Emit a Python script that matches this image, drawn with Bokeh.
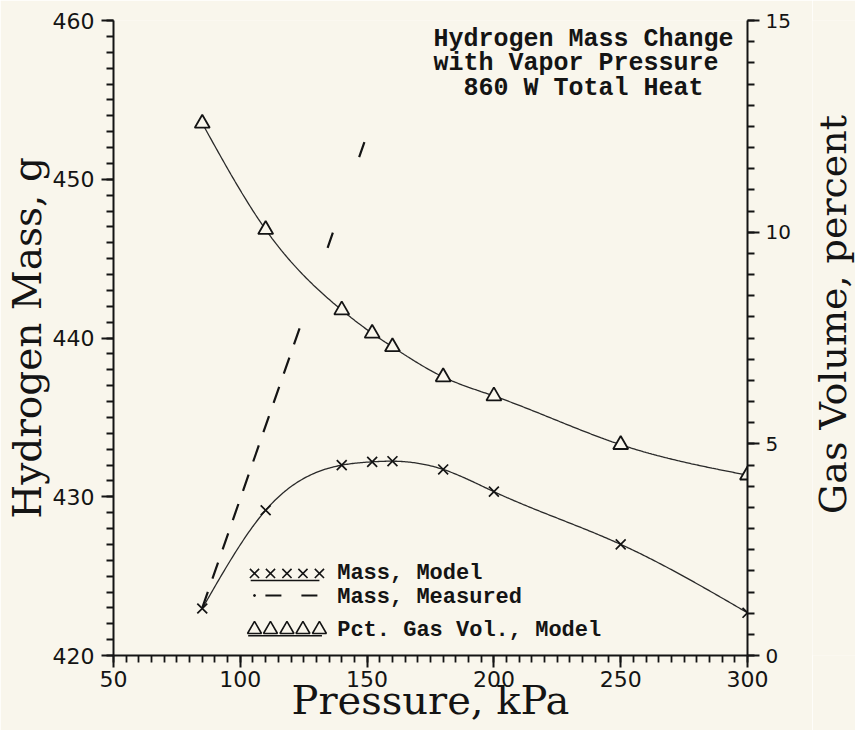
import math
import numpy as np
from bokeh.plotting import figure
from bokeh.layouts import row
from bokeh.models import Range1d, LinearAxis, FixedTicker
from bokeh.core.properties import value
from bokeh.embed import file_html
from bokeh.resources import INLINE

# ---------------- data ----------------
pressure = [85, 110, 140, 152, 160, 180, 200, 250, 300]              # kPa
mass_model = [422.96, 429.15, 431.99, 432.20, 432.24, 431.72, 430.32, 427.0, 422.69]  # g
gas_vol_model = [12.57, 10.06, 8.16, 7.61, 7.29, 6.58, 6.13, 4.98, 4.26]              # percent
measured_x = [85.0, 149.5]        # kPa
measured_y = [423.0, 452.6]       # g

x_ticks = [50, 100, 150, 200, 250, 300]
left_ticks = [420, 430, 440, 450, 460]
right_ticks = [0, 5, 10, 15]

title_lines = ["Hydrogen Mass Change", "with Vapor Pressure", "860 W Total Heat"]
legend_labels = ["Mass, Model", "Mass, Measured", "Pct. Gas Vol., Model"]
x_title = "Pressure, kPa"
left_title = "Hydrogen Mass, g"
right_title = "Gas Volume, percent"

# ---------------- style ----------------
BG = "#f9f6ec"
INK = "#141414"
MONO = "Liberation Mono"
SERIF = "DejaVu Serif"
SANS = "DejaVu Sans"
MAIN_W = 812
SIDE_W = 855 - MAIN_W
H = 730


def natural_spline(x, y, xs):
    x = np.asarray(x, float)
    y = np.asarray(y, float)
    n = len(x)
    h = np.diff(x)
    A = np.zeros((n, n))
    b = np.zeros(n)
    A[0, 0] = 1
    A[-1, -1] = 1
    for i in range(1, n - 1):
        A[i, i - 1] = h[i - 1]
        A[i, i] = 2 * (h[i - 1] + h[i])
        A[i, i + 1] = h[i]
        b[i] = 3 * ((y[i + 1] - y[i]) / h[i] - (y[i] - y[i - 1]) / h[i - 1])
    c = np.linalg.solve(A, b)
    bc = (y[1:] - y[:-1]) / h - h * (2 * c[:-1] + c[1:]) / 3
    d = (c[1:] - c[:-1]) / (3 * h)
    idx = np.clip(np.searchsorted(x, xs) - 1, 0, n - 2)
    dx = xs - x[idx]
    return y[idx] + bc[idx] * dx + c[idx] * dx ** 2 + d[idx] * dx ** 3


p = figure(width=MAIN_W, height=H, output_backend="svg", toolbar_location=None,
           x_range=Range1d(50, 300), y_range=Range1d(420, 460),
           min_border_left=113, min_border_right=MAIN_W - 747, min_border_top=20,
           min_border_bottom=75)
p.extra_y_ranges = {"pct": Range1d(0, 15)}
p.background_fill_color = BG
p.border_fill_color = BG
p.outline_line_color = None
p.xgrid.visible = False
p.ygrid.visible = False


def style_axis(ax, label_size, standoff, title=None, title_size=None, title_standoff=None):
    ax.axis_line_color = INK
    ax.axis_line_width = 2
    ax.major_tick_line_color = INK
    ax.minor_tick_line_color = INK
    ax.major_tick_line_width = 2
    ax.minor_tick_line_width = 1.8
    ax.major_tick_out = 12
    ax.major_tick_in = 0
    ax.minor_tick_out = 7
    ax.minor_tick_in = 0
    ax.major_label_text_font = SANS
    ax.major_label_text_font_size = label_size
    ax.major_label_text_color = INK
    ax.major_label_standoff = standoff
    if title is not None:
        ax.axis_label = title
        ax.axis_label_text_font = SERIF
        ax.axis_label_text_font_size = title_size
        ax.axis_label_text_font_style = "normal"
        ax.axis_label_text_color = INK
        ax.axis_label_standoff = title_standoff


xa = p.xaxis[0]
xa.ticker = FixedTicker(ticks=x_ticks, minor_ticks=list(range(50, 301, 5)))
style_axis(xa, "22px", 3, x_title, "40px", -13)

ya = p.yaxis[0]
ya.ticker = FixedTicker(ticks=left_ticks, minor_ticks=list(range(420, 461, 1)))
style_axis(ya, "22px", 7, left_title, "39px", 0)

ra = LinearAxis(y_range_name="pct")
ra.ticker = FixedTicker(ticks=right_ticks, minor_ticks=[v * 0.5 for v in range(0, 31)])
style_axis(ra, "20px", 6)
p.add_layout(ra, "right")

# ---------------- model curves ----------------
xs = np.linspace(min(pressure), max(pressure), 400)
p.line(xs, natural_spline(pressure, mass_model, xs), line_color="#2a2a2a", line_width=1.3)
p.line(xs, natural_spline(pressure, gas_vol_model, xs), line_color="#2a2a2a", line_width=1.3,
       y_range_name="pct")

# ---------------- measured (dashed) ----------------
split_y = 441.1
split_x = float(np.interp(split_y, measured_y, measured_x))
p.line([measured_x[0], split_x], [measured_y[0], split_y], line_color=INK, line_width=2.2,
       line_dash="17 14")
p.line([split_x, measured_x[1]], [split_y, measured_y[1]], line_color=INK, line_width=2.2,
       line_dash="16 80", line_dash_offset=19)

# ---------------- markers ----------------
p.scatter(pressure, mass_model, marker="x", size=14, line_color=INK, line_width=1.7)
p.scatter(pressure, gas_vol_model, marker="triangle", size=15, line_color=INK, line_width=1.8,
          fill_color=BG, y_range_name="pct")

# ---------------- legend (drawn as in the original) ----------------
leg_sym_x = [105.6, 111.9, 118.4, 124.7, 131.2]
leg_row_y = [425.17, 423.78, 421.64]
leg_text_x = 138.2
leg_text_y = [425.17, 423.66, 421.58]

p.line([leg_sym_x[0] - 1.5, leg_sym_x[-1]], [leg_row_y[0] - 0.45] * 2, line_color=INK, line_width=1.5)
p.scatter(leg_sym_x, [leg_row_y[0]] * 5, marker="x", size=13, line_color=INK, line_width=1.6)

p.scatter([leg_sym_x[0]], [leg_row_y[1]], marker="circle", size=2, line_color=INK, fill_color=INK)
p.line([leg_sym_x[0] + 4.3, leg_sym_x[-1]], [leg_row_y[1]] * 2, line_color=INK, line_width=2,
       line_dash="16 20")

p.line([leg_sym_x[0] - 2.5, leg_sym_x[-1] + 1.0], [leg_row_y[2] - 0.4] * 2, line_color=INK, line_width=1.5)
p.scatter(leg_sym_x, [(leg_row_y[2] - 420) * 15 / 40] * 5, marker="triangle", size=14,
          line_color=INK, line_width=1.6, fill_color=BG, y_range_name="pct")

p.text([leg_text_x] * 3, leg_text_y, text=legend_labels, text_font=value(MONO),
       text_font_size="22px", text_font_style="bold", text_color=INK,
       text_baseline="middle", text_align="left")

# ---------------- title block ----------------
title_x = [176.2, 176.2, 188.0]
title_y = [458.79, 457.26, 455.73]
p.text(title_x, title_y, text=title_lines, text_font=value(MONO), text_font_size="25px",
       text_font_style="bold", text_color=INK, text_baseline="middle", text_align="left")

# ---------------- right-hand axis title (reads bottom to top) ----------------
q = figure(width=SIDE_W, height=H, output_backend="svg", toolbar_location=None,
           x_range=Range1d(0, SIDE_W), y_range=Range1d(0, H),
           x_axis_location=None, y_axis_location=None, min_border=0)
q.background_fill_color = BG
q.border_fill_color = BG
q.outline_line_color = None
q.xgrid.visible = False
q.ygrid.visible = False
q.text([20], [392], text=[right_title], angle=math.pi / 2,
       text_font=value(SERIF), text_font_size="38px", text_color=INK,
       text_align="center", text_baseline="alphabetic")

open("out.html", "w").write(file_html(row(p, q), INLINE))
